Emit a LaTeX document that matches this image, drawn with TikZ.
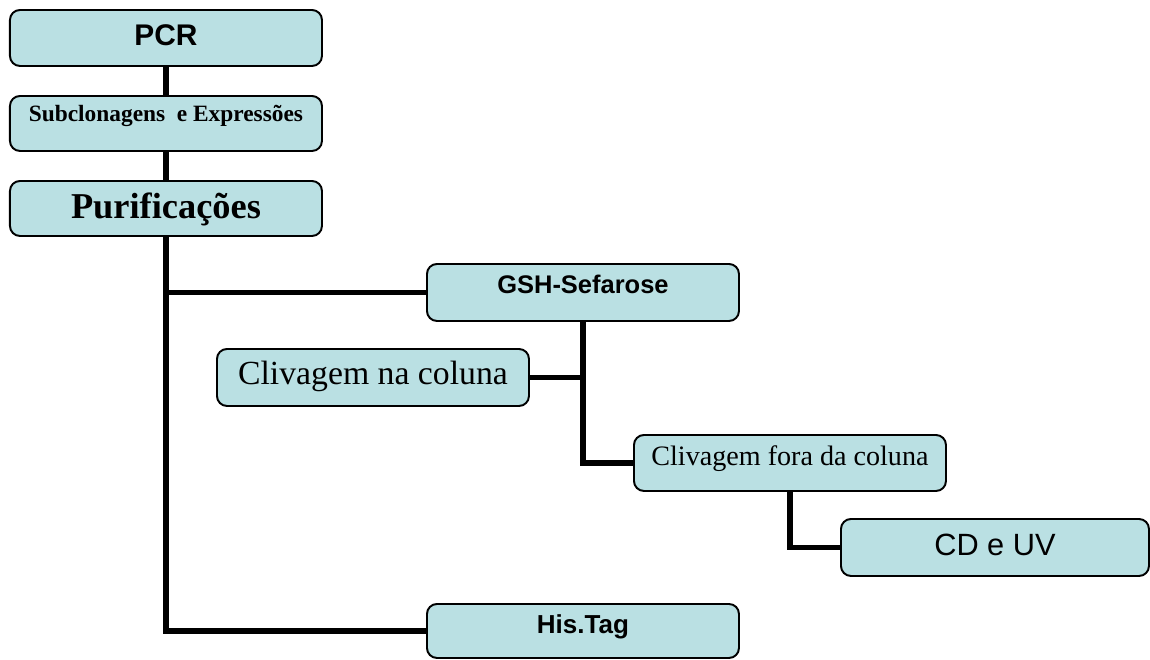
\documentclass[tikz,border=0pt]{standalone}
\usepackage{fontspec}
\setmainfont{Liberation Serif}
\setsansfont{Liberation Sans}
\usepackage{tikz}
\usetikzlibrary{calc}
\definecolor{boxfill}{RGB}{186,224,227}
\tikzset{
	box/.style={draw=black, fill=boxfill, line width=1.1pt, rounded corners=0.2cm,
		anchor=north west, minimum width=6.24cm, inner ysep=0pt, inner xsep=2pt},
	link/.style={line width=3pt, color=black}
}
\def\fs#1{\fontsize{#1}{#1}\selectfont}

\begin{document}
\begin{tikzpicture}
		%%%%% START %%%%%
		\useasboundingbox (0, 0) rectangle (23, -13.18);
		
		\node[box, text height=0.714cm, text depth=0.406cm] (pcr) at (0.18, -0.18) {\sffamily\bfseries\fs{17pt}PCR};
		\node[box, text height=0.515cm, text depth=0.585cm] (sub) at (0.18, -1.90) {\bfseries\fs{13.3pt}Subclonagens\ \ e Expressões};
		\node[box, text height=0.76cm, text depth=0.34cm] (puri) at (0.18, -3.60) {\bfseries\fs{20.7pt}Purificações};
		
		\node[box, text height=0.60cm, text depth=0.54cm] (gsh) at (8.52, -5.26) {\sffamily\bfseries\fs{14.5pt}GSH-Sefarose};
		\node[box, text height=0.71cm, text depth=0.43cm] (na) at (4.32, -6.96) {\fs{19.2pt}Clivagem na coluna};
		\node[box, text height=0.606cm, text depth=0.514cm] (fora) at (12.66, -8.68) {\fs{16pt}Clivagem fora da coluna};
		\node[box, minimum width=6.16cm, text height=0.735cm, text depth=0.405cm] (cd) at (16.80, -10.36) {\sffamily\fs{17.5pt}CD e UV};
		
		\node[box, text height=0.586cm, text depth=0.494cm] (his) at (8.52, -12.06) {\sffamily\bfseries\fs{14.8pt}His.Tag};
		
		\draw[link] (pcr.south) -- (sub.north);
		\draw[link] (sub.south) -- (puri.north);
		\draw[link] (puri.south) |- (his.west);
		\draw[link] (puri.south |- gsh.west) -- (gsh.west);
		
		\draw[link] (gsh.south) |- (fora.west);
		\draw[link] (na.east) -- (na.east -| gsh.south);
		\draw[link] (fora.south) |- (cd.west);
		
		%%%%% END %%%%%
	\end{tikzpicture}
\end{document}
